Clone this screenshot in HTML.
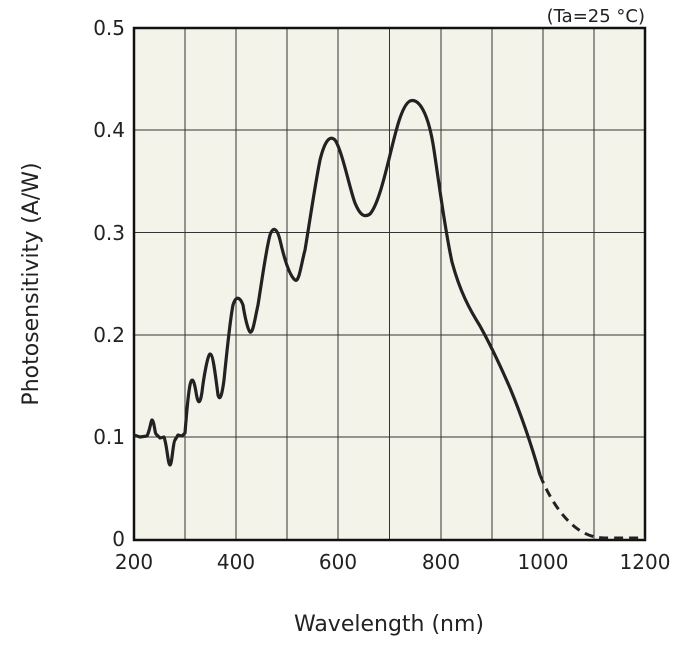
<!DOCTYPE html>
<html><head><meta charset="utf-8"><style>
body{margin:0;background:#fff;}
text{font-family:"DejaVu Sans","Liberation Sans",sans-serif;fill:#222;}
</style></head><body>
<svg width="700" height="642" viewBox="0 0 700 642" xmlns="http://www.w3.org/2000/svg">
<rect x="134" y="28" width="511" height="512" fill="#f4f3ea"/>
<g stroke="#333" stroke-width="1">
<line x1="185" y1="28" x2="185" y2="540"/><line x1="236" y1="28" x2="236" y2="540"/>
<line x1="287" y1="28" x2="287" y2="540"/><line x1="338" y1="28" x2="338" y2="540"/>
<line x1="389.5" y1="28" x2="389.5" y2="540"/><line x1="441" y1="28" x2="441" y2="540"/>
<line x1="492" y1="28" x2="492" y2="540"/><line x1="543" y1="28" x2="543" y2="540"/>
<line x1="594" y1="28" x2="594" y2="540"/>
<line x1="134" y1="130" x2="645" y2="130"/><line x1="134" y1="232.5" x2="645" y2="232.5"/>
<line x1="134" y1="335" x2="645" y2="335"/><line x1="134" y1="437" x2="645" y2="437"/>
</g>
<rect x="134" y="28" width="511" height="512" fill="none" stroke="#111" stroke-width="2.5"/>
<path d="M134,435 L140,437 L147,436 C150,430 151,420 152,420 C154,420 155,434 156,434 L160,438 L164,437 C167,445 168,465 170,465 C172,465 173,442 175,440 L178,435 L182,436 L185,433 C186,420 188,395 190,385 C192,376 194,380 196,392 C198,405 200,405 202,392 C204,375 208,354 210,354 C213,354 215,372 218,395 C220,402 222,395 224,380 C227,350 230,320 233,305 C236,295 240,297 243,305 C245,318 248,330 250,332 C253,334 255,318 258,305 C262,280 266,250 270,235 C273,226 277,228 280,240 C285,262 290,276 295,280 C299,283 301,265 305,250 C310,220 315,185 320,160 C325,140 330,135 335,140 C342,150 350,190 355,203 C360,215 364,218 370,214 C378,205 385,175 390,155 C396,130 402,105 410,101 C418,98 428,110 434,150 C440,190 445,230 452,262 C460,292 470,310 480,326 C490,344 500,365 510,388 C520,412 530,440 540,475" fill="none" stroke="#222" stroke-width="3.2" stroke-linejoin="round"/>
<path d="M540,475 C548,495 560,515 575,527 C585,535 595,538 605,538 L645,538" fill="none" stroke="#222" stroke-width="3" stroke-dasharray="9,6"/>
<g font-size="20" text-anchor="end">
<text x="125" y="35">0.5</text><text x="125" y="137">0.4</text><text x="125" y="240">0.3</text>
<text x="125" y="342">0.2</text><text x="125" y="444">0.1</text><text x="125" y="546">0</text>
</g>
<g font-size="20" text-anchor="middle">
<text x="134" y="569">200</text><text x="236" y="569">400</text><text x="338" y="569">600</text>
<text x="441" y="569">800</text><text x="543" y="569">1000</text><text x="645" y="569">1200</text>
</g>
<text x="645" y="22" font-size="18" text-anchor="end">(Ta=25 °C)</text>
<text x="389" y="631" font-size="22" text-anchor="middle">Wavelength (nm)</text>
<text transform="translate(38,284) rotate(-90)" font-size="22" text-anchor="middle">Photosensitivity (A/W)</text>
</svg>
</body></html>
